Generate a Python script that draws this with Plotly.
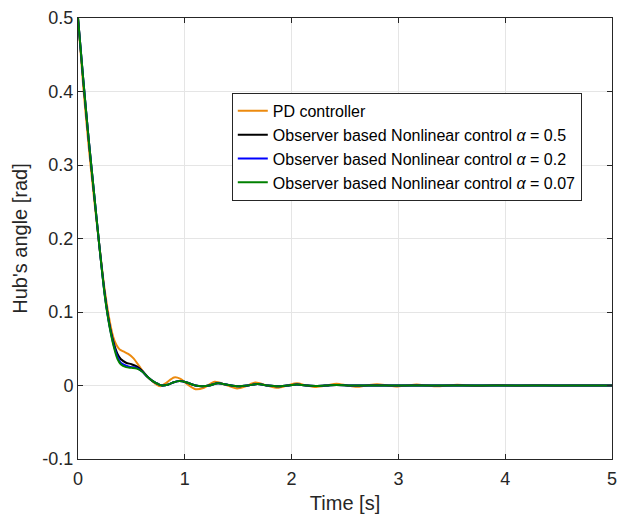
import plotly.graph_objects as go

# ---- data ----
t_pd = [0, 0.05, 0.1, 0.15, 0.2, 0.25, 0.3, 0.33, 0.36, 0.39, 0.43, 0.47, 0.52, 0.57,
        0.62, 0.67, 0.72, 0.77, 0.82, 0.9, 0.96, 1.02, 1.1, 1.18, 1.28, 1.38, 1.49,
        1.57, 1.66, 1.77, 1.87, 1.96, 2.05, 2.14, 2.23, 2.33, 2.42, 2.52, 2.61, 2.7,
        2.8, 2.9, 2.98, 3.08, 3.17, 3.27, 3.36, 3.46, 3.55, 3.65, 3.74, 3.84, 3.93,
        4.03, 4.12, 4.22, 4.31, 4.41, 4.5, 4.7, 5.0]
y_pd = [0.5, 0.405, 0.325, 0.255, 0.19, 0.13, 0.085, 0.066, 0.055, 0.049, 0.046, 0.043,
        0.037, 0.027, 0.017, 0.009, 0.003, -0.001, 0.003, 0.011, 0.009, 0.002, -0.005,
        -0.003, 0.005, 0.001, -0.004, -0.001, 0.004, 0.0, -0.003, 0.0, 0.003, 0.0,
        -0.002, 0.0, 0.0025, 0.0, -0.0018, 0.0, 0.0018, 0.0, -0.0014, 0.0, 0.0013, 0.0,
        -0.001, 0.0, 0.001, 0.0, -0.0008, 0.0, 0.0007, 0.0, -0.0005, 0.0, 0.0005, 0.0,
        -0.0003, 0.0, 0.0]

t_nl = [0, 0.05, 0.1, 0.15, 0.2, 0.25, 0.28, 0.31, 0.34, 0.37, 0.4, 0.45, 0.5, 0.55,
        0.6, 0.65, 0.7, 0.75, 0.79, 0.84, 0.89, 0.95, 1.02, 1.1, 1.16, 1.23, 1.31, 1.4,
        1.5, 1.59, 1.68, 1.78, 1.87, 1.96, 2.05, 2.15, 2.24, 2.33, 2.42, 2.55, 2.7,
        3.0, 3.5, 4.0, 4.5, 5.0]
y_a05 = [0.5, 0.415, 0.335, 0.262, 0.19, 0.125, 0.095, 0.072, 0.055, 0.043, 0.036,
         0.031, 0.029, 0.026, 0.02, 0.012, 0.006, 0.002, 0.0, 0.001, 0.004, 0.006,
         0.004, 0.0, -0.001, 0.0, 0.003, 0.001, -0.001, 0.0, 0.002, 0.0, -0.001, 0.0,
         0.0012, 0.0, -0.0006, 0.0, 0.0008, 0.0, 0.0, 0.0, 0.0, 0.0, 0.0, 0.0]
y_a02 = [0.5, 0.415, 0.335, 0.262, 0.19, 0.124, 0.094, 0.07, 0.052, 0.039, 0.031,
         0.027, 0.025, 0.024, 0.019, 0.012, 0.006, 0.002, 0.0, 0.001, 0.004, 0.006,
         0.004, 0.0, -0.001, 0.0, 0.003, 0.001, -0.001, 0.0, 0.002, 0.0, -0.001, 0.0,
         0.0012, 0.0, -0.0006, 0.0, 0.0008, 0.0, 0.0, 0.0, 0.0, 0.0, 0.0, 0.0]
y_a007 = [0.5, 0.415, 0.335, 0.262, 0.19, 0.123, 0.093, 0.069, 0.05, 0.036, 0.029,
          0.025, 0.024, 0.023, 0.019, 0.012, 0.006, 0.002, 0.0, 0.001, 0.004, 0.006,
          0.004, 0.0, -0.001, 0.0, 0.003, 0.001, -0.001, 0.0, 0.002, 0.0, -0.001, 0.0,
          0.0012, 0.0, -0.0006, 0.0, 0.0008, 0.0, 0.0, 0.0, 0.0, 0.0, 0.0, 0.0]

names = ["PD controller",
         "Observer based Nonlinear control <i>α</i> = 0.5",
         "Observer based Nonlinear control <i>α</i> = 0.2",
         "Observer based Nonlinear control <i>α</i> = 0.07"]
colors = ["#EC8A0E", "#000000", "#0000FF", "#008000"]

x_ticks = [0, 1, 2, 3, 4, 5]
x_ticktext = ["0", "1", "2", "3", "4", "5"]
y_ticks = [-0.1, 0, 0.1, 0.2, 0.3, 0.4, 0.5]
y_ticktext = ["-0.1", "0", "0.1", "0.2", "0.3", "0.4", "0.5"]

fig = go.Figure()
series = [(t_pd, y_pd), (t_nl, y_a05), (t_nl, y_a02), (t_nl, y_a007)]
for (tx, ty), nm, c in zip(series, names, colors):
    fig.add_trace(go.Scatter(x=tx, y=ty, mode="lines", name=nm,
                             line=dict(color=c, width=2, shape="spline", smoothing=0.8)))

FONT = "Liberation Sans, Arial, sans-serif"
axis_common = dict(showline=True, linecolor="#262626", linewidth=1, mirror="ticks",
                   ticks="inside", ticklen=5, tickcolor="#262626",
                   showgrid=True, gridcolor="#E5E5E5", gridwidth=1, zeroline=False,
                   ticklabeloverflow="allow",
                   tickfont=dict(family=FONT, size=18, color="#262626"))

fig.update_layout(
    width=636, height=519,
    margin=dict(l=78, r=24, t=8, b=59),
    paper_bgcolor="white", plot_bgcolor="white",
    font=dict(family=FONT, color="#262626"),
    xaxis=dict(range=[0, 5], tickvals=x_ticks, ticktext=x_ticktext, ticklabelstandoff=3,
               title=dict(text="Time [s]", font=dict(size=20), standoff=8), **axis_common),
    yaxis=dict(range=[-0.1, 0.5], tickvals=y_ticks, ticktext=y_ticktext,
               title=dict(text="Hub's angle [rad]", font=dict(size=20), standoff=9), **axis_common),
    legend=dict(x=0.288, y=0.83, xanchor="left", yanchor="top",
                bgcolor="white", bordercolor="#262626", borderwidth=1,
                font=dict(family=FONT, size=16, color="#000000"), itemwidth=30,
                tracegroupgap=0),
    showlegend=True,
)

fig.write_html("out.html", config={"displayModeBar": False},
               post_script="document.body.style.margin='0';")
